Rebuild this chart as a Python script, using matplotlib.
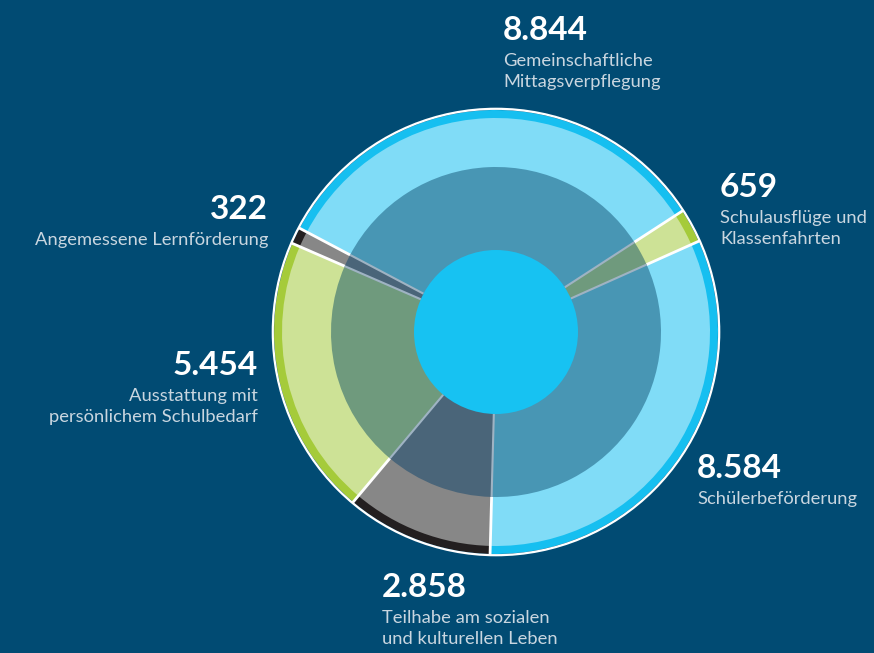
import numpy as np
import matplotlib
matplotlib.use("Agg")
import matplotlib.pyplot as plt
from matplotlib.patches import Circle

# ---- data ----
categories = ["Gemeinschaftliche\nMittagsverpflegung",
              "Schulausflüge und\nKlassenfahrten",
              "Schülerbeförderung",
              "Teilhabe am sozialen\nund kulturellen Leben",
              "Ausstattung mit\npersönlichem Schulbedarf",
              "Angemessene Lernförderung"]
values = [8844, 659, 8584, 2858, 5454, 322]
value_labels = ["8.844", "659", "8.584", "2.858", "5.454", "322"]

rim_colors = ["#16bff0", "#a5cb3a", "#16bff0", "#231f20", "#a5cb3a", "#231f20"]
light_colors = ["#80dcf7", "#cde296", "#80dcf7", "#878787", "#cde296", "#878787"]
inner_colors = ["#4896b4", "#6f9a7d", "#4896b4", "#4a6579", "#6f9a7d", "#4a6579"]

BG = "#014b73"
W, H = 874, 653
cx, cy = 496, H - 332
R_OUT, R_RIM, R_MID, R_CEN = 222, 214, 165, 82
START = 152.15

plt.rcParams['font.family'] = ['Lato', 'DejaVu Sans']

fig = plt.figure(figsize=(W / 100, H / 100), dpi=100, facecolor=BG)
ax = fig.add_axes([0, 0, 1, 1])
ax.set_facecolor(BG)

common = dict(center=(cx, cy), startangle=START, counterclock=False)
ax.pie(values, radius=R_OUT, colors=rim_colors, wedgeprops=dict(linewidth=0), **common)
ax.pie(values, radius=R_RIM, colors=light_colors, wedgeprops=dict(linewidth=0), **common)
ax.pie(values, radius=R_MID, colors=inner_colors, wedgeprops=dict(linewidth=0), **common)

ax.add_patch(Circle((cx, cy), R_OUT + 1.2, fill=False, edgecolor="white", linewidth=1.6, zorder=5))

# separators
total = float(sum(values))
bounds = START - np.concatenate([[0], np.cumsum(values)]) / total * 360.0
for a in bounds[:-1]:
    t = np.deg2rad(a)
    c, s = np.cos(t), np.sin(t)
    ax.plot([cx + R_MID * c, cx + (R_OUT + 1) * c], [cy + R_MID * s, cy + (R_OUT + 1) * s],
            color="white", linewidth=2.0, solid_capstyle="butt", zorder=6)
    ax.plot([cx + R_CEN * c, cx + R_MID * c], [cy + R_CEN * s, cy + R_MID * s],
            color="#9fb3c3", linewidth=1.5, solid_capstyle="butt", zorder=6)

ax.add_patch(Circle((cx, cy), R_CEN, facecolor="#17c2f2", edgecolor="none", zorder=7))

# labels: (x, baseline y of number, alignment)
label_pos = [(503, 40, "left"), (720, 197, "left"), (697, 478, "left"),
             (382, 597, "left"), (258, 375, "right"), (268, 219, "right")]
desc_color = "#c9d6e0"
for lab, cat, (x, yb, ha) in zip(value_labels, categories, label_pos):
    ax.text(x, H - yb, lab, ha=ha, va="baseline", color="white",
            fontsize=24, fontweight="bold")
    for i, line in enumerate(cat.split("\n")):
        ax.text(x, H - (yb + 26 + i * 21), line, ha=ha, va="baseline",
                color=desc_color, fontsize=13.2, fontweight="normal")

ax.set_xlim(0, W)
ax.set_ylim(0, H)
ax.set_aspect("equal")
ax.axis("off")
fig.savefig("out.png", dpi=100, facecolor=BG)
